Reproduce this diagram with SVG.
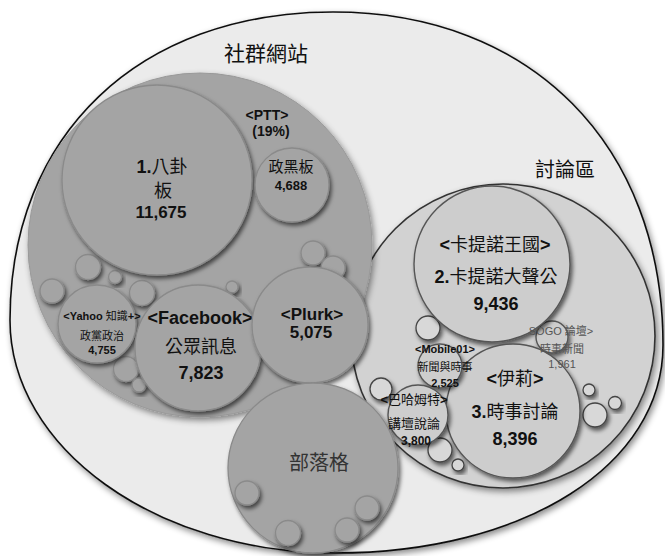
<svg xmlns="http://www.w3.org/2000/svg" width="665" height="556" viewBox="0 0 665 556">
<defs>
<filter id="sh" x="-30%" y="-30%" width="160%" height="160%"><feDropShadow dx="2" dy="3" stdDeviation="2" flood-color="#000" flood-opacity="0.6"/></filter>
<filter id="shb" x="-10%" y="-10%" width="120%" height="120%"><feDropShadow dx="2" dy="3" stdDeviation="3" flood-color="#000" flood-opacity="0.45"/></filter>
<style>
.outer{fill:#ebebeb;stroke:#111;stroke-width:1.6}
.dk{fill:#a4a4a4;stroke:#8a8a8a;stroke-width:1.3;filter:url(#sh)}
.dkg{fill:#a4a4a4;stroke:#999;stroke-width:1;filter:url(#shb)}
.lt{fill:#cdcdcd;stroke:#555;stroke-width:1.4;filter:url(#sh)}
.ltg{fill:#d2d2d2;stroke:#333;stroke-width:1.6;filter:url(#shb)}
.lb{fill:#d8d8d8;stroke:#444;stroke-width:1.3;filter:url(#sh)}
text{font-family:"Liberation Sans","Noto Sans CJK TC",sans-serif;fill:#111;text-anchor:middle}
.b{font-weight:bold}
.grp{font-size:21px;fill:#111}
.sg{fill:#555}
</style>
</defs>
<rect width="665" height="556" fill="#fff"/>
<g id="outer">
<path class="outer" filter="url(#shb)" d="M333,12 C531,12 663,145 663,345 C663,465 525,553 335,553 C156,553 10,448 10,320 C10,135 139,12 333,12 Z"/>
</g>
<g id="label-social"><text class="grp" x="266" y="61">社群網站</text></g>
<g id="label-forum"><text class="grp" x="565" y="177" style="font-size:20px">討論區</text></g>

<g id="forum-group">
<circle class="ltg" cx="503" cy="336" r="152"/>
<circle class="lb" cx="428" cy="328" r="12"/>
<circle class="lb" cx="381" cy="389" r="11"/>
<circle class="lb" cx="440" cy="450" r="12"/>
<circle class="lb" cx="458" cy="465" r="6"/>
<circle class="lb" cx="589" cy="390" r="6"/>
<circle class="lb" cx="595" cy="415" r="12"/>
<circle class="lb" cx="615" cy="403" r="6.5"/>
</g>
<g id="sogo-circle">
<circle class="lt" cx="552" cy="337" r="16"/>
</g>
<g id="ck101">
<circle class="lt" cx="492" cy="264" r="78"/>
<text x="495" y="251" style="font-size:18px"><tspan class="b">&lt;</tspan>卡提諾王國<tspan class="b">&gt;</tspan></text>
<text x="496" y="283" style="font-size:18px"><tspan class="b">2.</tspan>卡提諾大聲公</text>
<text class="b" x="496" y="310" style="font-size:18px">9,436</text>
</g>
<g id="eyny">
<circle class="lt" cx="513" cy="411" r="67"/>
<text x="515" y="385" style="font-size:18px"><tspan class="b">&lt;</tspan>伊莉<tspan class="b">&gt;</tspan></text>
<text x="515" y="418" style="font-size:18px"><tspan class="b">3.</tspan>時事討論</text>
<text class="b" x="515" y="445" style="font-size:18px">8,396</text>
</g>
<g id="sogo">
<text class="sg" x="561" y="335" style="font-size:11px">SOGO 論壇&gt;</text>
<text class="sg" x="562" y="353" style="font-size:11px">時事新聞</text>
<text class="sg" x="562" y="368" style="font-size:11px">1,961</text>
</g>
<g id="mobile01">
<circle class="lt" cx="440" cy="366" r="22"/>
<text x="445" y="353" style="font-size:11px"><tspan class="b">&lt;Mobile01&gt;</tspan></text>
<text x="445" y="371" style="font-size:11px">新聞與時事</text>
<text class="b" x="445" y="387" style="font-size:11px">2,525</text>
</g>
<g id="bahamut">
<circle class="lt" cx="418" cy="415" r="30"/>
<text x="414" y="404" style="font-size:13px"><tspan class="b">&lt;</tspan>巴哈姆特<tspan class="b">&gt;</tspan></text>
<text x="414" y="428" style="font-size:13px">講壇說論</text>
<text class="b" x="416" y="445" style="font-size:12px">3,800</text>
</g>

<g id="social-group">
<circle class="dkg" cx="200" cy="245" r="172"/>
<circle class="dk" cx="313" cy="253" r="12"/>
<circle class="dk" cx="333" cy="268" r="12"/>
<circle class="dk" cx="88" cy="267" r="12.5"/>
<circle class="dk" cx="115" cy="277" r="6.5"/>
<circle class="dk" cx="52" cy="291" r="12"/>
<circle class="dk" cx="142" cy="293" r="12.5"/>
<circle class="dk" cx="232" cy="287" r="6"/>
<circle class="dk" cx="126" cy="369" r="12.5"/>
<circle class="dk" cx="139" cy="385" r="7"/>
<text class="b" x="267" y="120" style="font-size:14px">&lt;PTT&gt;</text>
<text class="b" x="271" y="136" style="font-size:14px">(19%)</text>
</g>
<g id="gossiping">
<circle class="dk" cx="157" cy="180" r="95"/>
<text x="162" y="173" style="font-size:18px"><tspan class="b">1.</tspan>八卦</text>
<text x="163" y="197" style="font-size:18px">板</text>
<text class="b" x="161" y="218" style="font-size:17px">11,675</text>
</g>
<g id="hatepolitics">
<circle class="dk" cx="292" cy="185" r="37"/>
<text x="291" y="172" style="font-size:15px">政黑板</text>
<text class="b" x="291" y="190" style="font-size:13px">4,688</text>
</g>
<g id="yahoo">
<circle class="dk" cx="97" cy="324" r="39"/>
<text x="102" y="320" style="font-size:11px"><tspan class="b">&lt;Yahoo </tspan>知識<tspan class="b">+&gt;</tspan></text>
<text x="102" y="340" style="font-size:11px">政黨政治</text>
<text class="b" x="102" y="354" style="font-size:11px">4,755</text>
</g>
<g id="facebook">
<circle class="dk" cx="198" cy="348" r="63"/>
<text class="b" x="200" y="324" style="font-size:18px">&lt;Facebook&gt;</text>
<text x="201" y="353" style="font-size:18px">公眾訊息</text>
<text class="b" x="201" y="379" style="font-size:18px">7,823</text>
</g>
<g id="plurk">
<circle class="dk" cx="310" cy="325" r="58"/>
<text class="b" x="312" y="320" style="font-size:17px">&lt;Plurk&gt;</text>
<text class="b" x="311" y="338" style="font-size:17px">5,075</text>
</g>
<g id="blog">
<circle class="dk" cx="313" cy="468" r="85"/>
<circle class="dk" cx="247" cy="493" r="12"/>
<circle class="dk" cx="288" cy="533" r="12.5"/>
<circle class="dk" cx="347" cy="530" r="12"/>
<circle class="dk" cx="367" cy="508" r="12"/>
<text x="319" y="470" style="font-size:20px;fill:#333">部落格</text>
</g>
<g id="connectors"></g>
</svg>
